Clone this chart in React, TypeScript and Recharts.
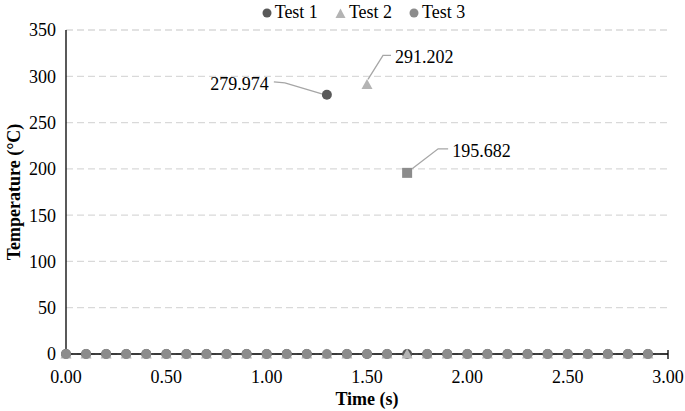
import React from "react";
import { ScatterChart, Scatter, XAxis, YAxis, CartesianGrid, Legend } from "recharts";

const TIMES = [0.0, 0.1, 0.2, 0.3, 0.4, 0.5, 0.6, 0.7, 0.8, 0.9, 1.0, 1.1, 1.2, 1.3, 1.4, 1.5, 1.6, 1.7, 1.8, 1.9, 2.0, 2.1, 2.2, 2.3, 2.4, 2.5, 2.6, 2.7, 2.8, 2.9];
const TEST1 = [0, 0, 0, 0, 0, 0, 0, 0, 0, 0, 0, 0, 0, 279.974, 0, 0, 0, 0, 0, 0, 0, 0, 0, 0, 0, 0, 0, 0, 0, 0];
const TEST2 = [0, 0, 0, 0, 0, 0, 0, 0, 0, 0, 0, 0, 0, 0, 0, 291.202, 0, 0, 0, 0, 0, 0, 0, 0, 0, 0, 0, 0, 0, 0];
const TEST3 = [0, 0, 0, 0, 0, 0, 0, 0, 0, 0, 0, 0, 0, 0, 0, 0, 0, 195.682, 0, 0, 0, 0, 0, 0, 0, 0, 0, 0, 0, 0];
const X_TICKS = [0, 0.5, 1, 1.5, 2, 2.5, 3];
const Y_TICKS = [0, 50, 100, 150, 200, 250, 300, 350];

const C1 = "#595959";
const C2 = "#b4b4b4";
const C3 = "#8c8c8c";
const LEADER = "#a6a6a6";
const FONT = "Liberation Serif";
const FS = 18;
const X_TICK_GAP = 16;

const toRows = (vals: number[]) => TIMES.map((t, i) => ({ t, v: vals[i] }));

// callout: leader polyline offsets + text anchor, relative to the marker
type Callout = { pts: [number, number][]; tx: number; ty: number; anchor: "start" | "end" };
const CALL1: Callout = { pts: [[-5, -1], [-42, -12], [-53, -13]], tx: -58, ty: -11, anchor: "end" };
const CALL2: Callout = { pts: [[1, -5], [16, -29], [24, -29]], tx: 28, ty: -27, anchor: "start" };
const CALL3: Callout = { pts: [[5, -4], [31, -24], [41, -24]], tx: 45, ty: -22, anchor: "start" };

function drawCallout(cx: number, cy: number, c: Callout, value: number) {
  const d = c.pts.map((p, i) => `${i ? "L" : "M"}${cx + p[0]},${cy + p[1]}`).join(" ");
  return (
    <g>
      <path d={d} stroke={LEADER} strokeWidth={1.3} fill="none" />
      <text x={cx + c.tx} y={cy + c.ty} textAnchor={c.anchor} dominantBaseline="central"
        style={{ fontFamily: FONT, fontSize: FS }} fill="#000">{value.toFixed(3)}</text>
    </g>
  );
}

const Dot1 = (p: any) => {
  const { cx, cy, payload } = p;
  return (
    <g>
      <circle cx={cx} cy={cy} r={5} fill={C1} />
      {payload.v > 0 && drawCallout(cx, cy, CALL1, payload.v)}
    </g>
  );
};

const Tri2 = (p: any) => {
  const { cx, cy, payload } = p;
  return (
    <g>
      <path d={`M${cx},${cy - 5.5} L${cx + 5.5},${cy + 4.5} L${cx - 5.5},${cy + 4.5} Z`} fill={C2} />
      {payload.v > 0 && drawCallout(cx, cy, CALL2, payload.v)}
    </g>
  );
};

const Dot3 = (p: any) => {
  const { cx, cy, payload } = p;
  if (payload.v > 0) {
    return (
      <g>
        <rect x={cx - 5} y={cy - 5} width={10} height={10} fill={C3} />
        {drawCallout(cx, cy, CALL3, payload.v)}
      </g>
    );
  }
  return <circle cx={cx} cy={cy} r={5} fill={C3} />;
};

// excel-style cross tick mark + label; the mark is hidden under the markers
// wherever a data point sits on it, so only draw it where none does
const XTick = (p: any) => {
  const { x, y, payload } = p;
  const axisY = y - X_TICK_GAP;
  const covered = TIMES.some((t) => Math.abs(t - payload.value) < 1e-9);
  return (
    <g>
      {!covered && <line x1={x} x2={x} y1={axisY - 4} y2={axisY + 5} stroke="#000" strokeWidth={1.3} />}
      <text x={x} y={y} textAnchor="middle" dominantBaseline="hanging" fill="#000"
        style={{ fontFamily: FONT, fontSize: FS }}>{payload.value.toFixed(2)}</text>
    </g>
  );
};

const LegendBox = () => (
  <div style={{ display: "flex", justifyContent: "center", gap: 17, paddingLeft: 42, fontFamily: FONT, fontSize: FS, color: "#000", lineHeight: "20px" }}>
    <span><svg width={10} height={10} style={{ marginRight: 3 }}><circle cx={5} cy={5} r={4.5} fill={C1} /></svg>Test 1</span>
    <span><svg width={11} height={10} style={{ marginRight: 3 }}><path d="M5.5,0.5 L10.5,10 L0.5,10 Z" fill={C2} /></svg>Test 2</span>
    <span><svg width={10} height={10} style={{ marginRight: 3 }}><circle cx={5} cy={5} r={4.5} fill={C3} /></svg>Test 3</span>
  </div>
);

const tickStyle = { fill: "#000", style: { fontFamily: FONT, fontSize: FS } };

export default function App() {
  return (
    <div style={{ position: "absolute", left: 0, top: 0, background: "#fff", fontFamily: FONT }}>
      <ScatterChart width={685} height={411} margin={{ top: 10, right: 17, bottom: 0, left: 6 }} style={{ fontFamily: FONT }}>
        <CartesianGrid vertical={false} stroke="#d9d9d9" strokeDasharray="7 4" strokeWidth={1.3} />
        <XAxis
          type="number"
          dataKey="t"
          domain={[0, 3]}
          ticks={X_TICKS}
          height={57}
          tickLine={false}
          tickSize={0}
          tickMargin={X_TICK_GAP}
          stroke="#000"
          strokeWidth={1.3}
          tick={<XTick />}
          label={{ value: "Time (s)", position: "insideBottom", offset: 6, fill: "#000", style: { fontFamily: FONT, fontSize: FS, fontWeight: "bold" } }}
        />
        <YAxis
          type="number"
          dataKey="v"
          domain={[0, 350]}
          ticks={Y_TICKS}
          width={60}
          tickLine={false}
          tickSize={0}
          tickMargin={10}
          stroke="#000"
          strokeWidth={1.3}
          tick={tickStyle}
          label={{ value: "Temperature (°C)", angle: -90, position: "insideLeft", offset: 8, fill: "#000", style: { textAnchor: "middle", fontFamily: FONT, fontSize: FS, fontWeight: "bold" } }}
        />
        <Legend verticalAlign="top" content={() => <LegendBox />} wrapperStyle={{ top: 2, left: 0, width: 685 }} />
        <Scatter name="Test 1" data={toRows(TEST1)} fill={C1} shape={Dot1} isAnimationActive={false} />
        <Scatter name="Test 2" data={toRows(TEST2)} fill={C2} shape={Tri2} isAnimationActive={false} />
        <Scatter name="Test 3" data={toRows(TEST3)} fill={C3} shape={Dot3} isAnimationActive={false} />
      </ScatterChart>
    </div>
  );
}
